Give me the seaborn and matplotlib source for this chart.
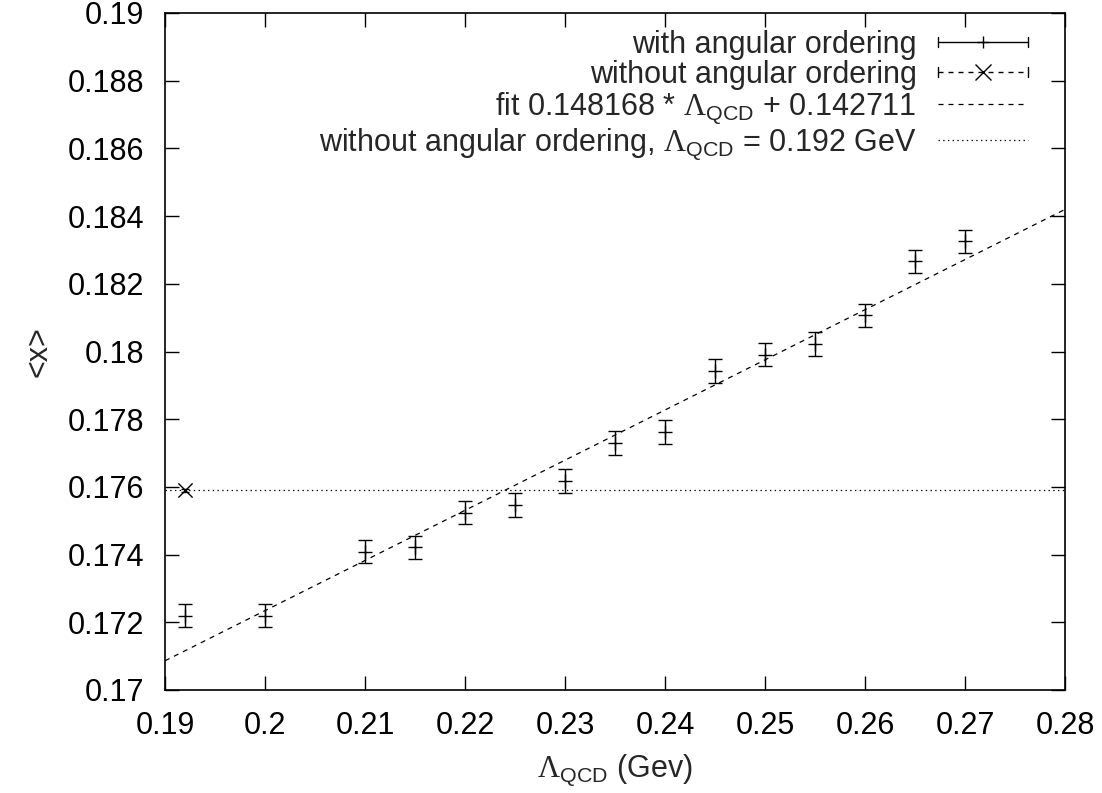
import numpy as np
import pandas as pd
import matplotlib
matplotlib.use("Agg")
import matplotlib.pyplot as plt
import seaborn as sns
from matplotlib.lines import Line2D
from matplotlib.legend_handler import HandlerBase

# ---------------- data ----------------
lambda_qcd = [0.192, 0.200, 0.210, 0.215, 0.220, 0.225, 0.230, 0.235,
              0.240, 0.245, 0.250, 0.255, 0.260, 0.265, 0.270]
mean_x = [0.17220, 0.17220, 0.17409, 0.17422, 0.17524, 0.17547, 0.17618, 0.17729,
          0.17762, 0.17943, 0.17991, 0.18023, 0.18107, 0.18266, 0.18325]
err_x = [0.00035, 0.00035, 0.00035, 0.00034, 0.00035, 0.00035, 0.00035, 0.00035,
         0.00035, 0.00035, 0.00035, 0.00035, 0.00034, 0.00035, 0.00035]

noao_lambda = [0.192]
noao_x = [0.1759]
noao_err = [0.00004]

fit_slope = 0.148168
fit_intercept = 0.142711

x_ticks = [0.19, 0.20, 0.21, 0.22, 0.23, 0.24, 0.25, 0.26, 0.27, 0.28]
x_tick_labels = ["0.19", "0.2", "0.21", "0.22", "0.23", "0.24", "0.25", "0.26", "0.27", "0.28"]
y_ticks = [0.170, 0.172, 0.174, 0.176, 0.178, 0.180, 0.182, 0.184, 0.186, 0.188, 0.190]
y_tick_labels = ["0.17", "0.172", "0.174", "0.176", "0.178", "0.18", "0.182", "0.184",
                 "0.186", "0.188", "0.19"]

legend_labels = [
    "with angular ordering",
    "without angular ordering",
    r"fit 0.148168 * $\Lambda_{\mathsf{QCD}}$ + 0.142711",
    r"without angular ordering, $\Lambda_{\mathsf{QCD}}$ = 0.192 GeV",
]

# ---------------- style ----------------
sns.set_theme(style="ticks")
plt.rcParams["font.family"] = ["Liberation Sans", "DejaVu Sans"]
plt.rcParams["mathtext.fontset"] = "custom"
plt.rcParams["mathtext.rm"] = "Liberation Serif"
plt.rcParams["mathtext.sf"] = "Liberation Sans"
plt.rcParams["mathtext.it"] = "Liberation Sans:italic"
plt.rcParams["lines.scale_dashes"] = False

FS = 22
fig = plt.figure(figsize=(11.02, 7.93), dpi=100)
ax = fig.add_axes([165 / 1102, 1 - 690 / 793, 900 / 1102, (690 - 13) / 793])

df = pd.DataFrame({"lam": lambda_qcd, "x": mean_x, "err": err_x})

DASH = (0, (3.6, 3.6))
DOT = (0, (1.0, 2.4))

# error bars (with angular ordering)
ax.errorbar(df["lam"], df["x"], yerr=df["err"], fmt="none", ecolor="black",
            elinewidth=1.0, capsize=4.7, capthick=1.0, zorder=3)
sns.scatterplot(data=df, x="lam", y="x", marker="+", s=90, color="black",
                linewidth=1.0, ax=ax, zorder=4, legend=False)

# without angular ordering point
ax.errorbar(noao_lambda, noao_x, yerr=noao_err, fmt="none", ecolor="black",
            elinewidth=1.0, capsize=3, capthick=1.0, zorder=3)
sns.scatterplot(x=noao_lambda, y=noao_x, marker="x", s=105, color="black",
                linewidth=1.0, ax=ax, zorder=4, legend=False)

# fit line
fit_x = np.array([x_ticks[0], x_ticks[-1]])
fit_y = fit_slope * fit_x + fit_intercept
sns.lineplot(x=fit_x, y=fit_y, color="black", linewidth=0.9, linestyle=DASH, ax=ax,
             legend=False)

# horizontal reference (without angular ordering)
ax.axhline(noao_x[0], color="black", linewidth=0.9, linestyle=DOT)

ax.set_xlim(x_ticks[0], x_ticks[-1])
ax.set_ylim(y_ticks[0], y_ticks[-1])
ax.set_xticks(x_ticks)
ax.set_xticklabels(x_tick_labels)
ax.set_yticks(y_ticks)
ax.set_yticklabels(y_tick_labels)
ax.tick_params(axis="both", direction="in", length=10, width=1.0, labelsize=FS,
               top=True, right=True, colors="black")
ax.tick_params(axis="y", pad=15)
ax.tick_params(axis="x", pad=15)
for s in ax.spines.values():
    s.set_visible(True)
    s.set_linewidth(1.2)
    s.set_color("black")

ax.set_xlabel(r"$\Lambda_{\mathsf{QCD}}$ (Gev)", fontsize=FS, labelpad=8)
ax.set_ylabel("<x>", fontsize=FS, labelpad=10)


# ---------------- legend (gnuplot-like key) ----------------
class GnuErrHandler(HandlerBase):
    def __init__(self, linestyle, marker, msize):
        super().__init__()
        self.ls = linestyle
        self.marker = marker
        self.msize = msize

    def create_artists(self, legend, orig_handle, xdescent, ydescent, width,
                       height, fontsize, trans):
        x0, x1 = -xdescent, -xdescent + width
        y = -ydescent + height / 2
        cap = 3.6
        arts = [
            Line2D([x0, x1], [y, y], color="black", lw=1.0, linestyle=self.ls),
            Line2D([x0, x0], [y - cap, y + cap], color="black", lw=1.0),
            Line2D([x1, x1], [y - cap, y + cap], color="black", lw=1.0),
            Line2D([(x0 + x1) / 2], [y], marker=self.marker, ms=self.msize,
                   color="black", mew=1.0, linestyle="none"),
        ]
        for a in arts:
            a.set_transform(trans)
        return arts


h1 = Line2D([], [], color="black")
h2 = Line2D([], [], color="black")
h3 = Line2D([], [], color="black", lw=0.9, linestyle=DASH)
h4 = Line2D([], [], color="black", lw=0.9, linestyle=DOT)
leg = ax.legend([h1, h2, h3, h4], legend_labels,
                handler_map={h1: GnuErrHandler("-", "+", 8),
                             h2: GnuErrHandler(DASH, "x", 11)},
                loc="upper right", bbox_to_anchor=(0.959, 0.975),
                frameon=False, fontsize=FS, markerfirst=False,
                handlelength=2.95, handletextpad=0.69, labelspacing=0.0,
                borderpad=0, borderaxespad=0)

fig.savefig("out.png", dpi=100)
